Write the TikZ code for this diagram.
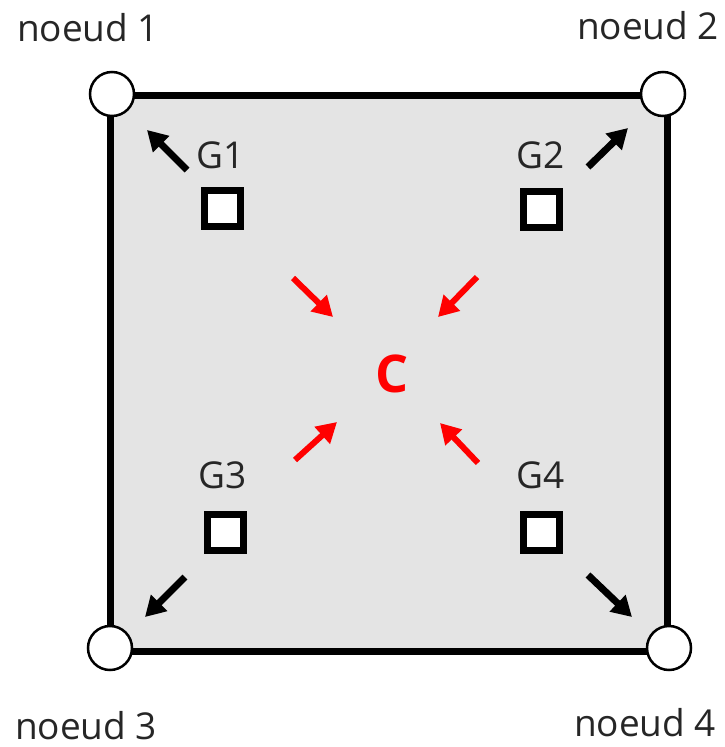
\documentclass[tikz,border=0pt]{standalone}
\usepackage{fontspec}
\setmainfont{Open Sans}
\usetikzlibrary{arrows.meta}
\definecolor{panel}{HTML}{E4E4E4}
\definecolor{cred}{HTML}{FF0000}
\begin{document}
\begin{tikzpicture}[x=1pt,y=-1pt,
  nodept/.style={circle,draw=black,line width=2.5pt,fill=white,minimum size=44pt,inner sep=0pt},
  gausspt/.style={rectangle,draw=black,line width=7pt,fill=white,minimum size=36pt,inner sep=0pt},
  lbl/.style={font=\fontsize{37}{44}\selectfont,anchor=base,inner sep=0pt,text=black!85},
  outarrow/.style={line width=7pt,-{Triangle[length=20pt,width=22pt]}},
  inarrow/.style={cred,line width=6pt,-{Triangle[length=20pt,width=22pt]}}]
\useasboundingbox (0,0) rectangle (725,747);
% element corners
\coordinate (c1) at (110,95);
\coordinate (c2) at (667,95);
\coordinate (c3) at (110,651);
\coordinate (c4) at (667,651);
% element body
\filldraw[fill=panel,draw=black,line width=7pt] (c1) -- (c2) -- (c4) -- (c3) -- cycle;
% nodes
\node[nodept] (n1) at (112,94) {};
\node[nodept] (n2) at (663,94) {};
\node[nodept] (n3) at (110,648) {};
\node[nodept] (n4) at (669,648) {};
\node[lbl] (l1) at (88,41) {noeud 1};
\node[lbl] (l2) at (648,39) {noeud 2};
\node[lbl] (l3) at (86,739) {noeud 3};
\node[lbl] (l4) at (645,736) {noeud 4};
% Gauss points
\node[gausspt] (g1) at (222,208) {};
\node[gausspt] (g2) at (541,209) {};
\node[gausspt] (g3) at (225,532) {};
\node[gausspt] (g4) at (541,532) {};
\node[lbl] (t1) at (221,168) {G1};
\node[lbl] (t2) at (541,168) {G2};
\node[lbl] (t3) at (223,488) {G3};
\node[lbl] (t4) at (541,488) {G4};
% extrapolation towards the nodes
\draw[outarrow] ([shift={(-35,-38)}]g1.center) -- ([shift={(-75,-78)}]g1.center);
\draw[outarrow] ([shift={(47,-42)}]g2.center) -- ([shift={(87,-81)}]g2.center);
\draw[outarrow] ([shift={(-40,45)}]g3.center) -- ([shift={(-80,85)}]g3.center);
\draw[outarrow] ([shift={(47,43)}]g4.center) -- ([shift={(91,85)}]g4.center);
% centre value
\node[font=\fontsize{52}{58}\selectfont\bfseries,text=cred,inner sep=0pt] (c) at (392,374) {C};
\draw[inarrow] ([shift={(-99,-96)}]c.center) -- ([shift={(-59,-57)}]c.center);
\draw[inarrow] ([shift={(85,-97)}]c.center) -- ([shift={(46,-57)}]c.center);
\draw[inarrow] ([shift={(-97,86)}]c.center) -- ([shift={(-55,48)}]c.center);
\draw[inarrow] ([shift={(86,89)}]c.center) -- ([shift={(48,49)}]c.center);
\end{tikzpicture}
\end{document}
